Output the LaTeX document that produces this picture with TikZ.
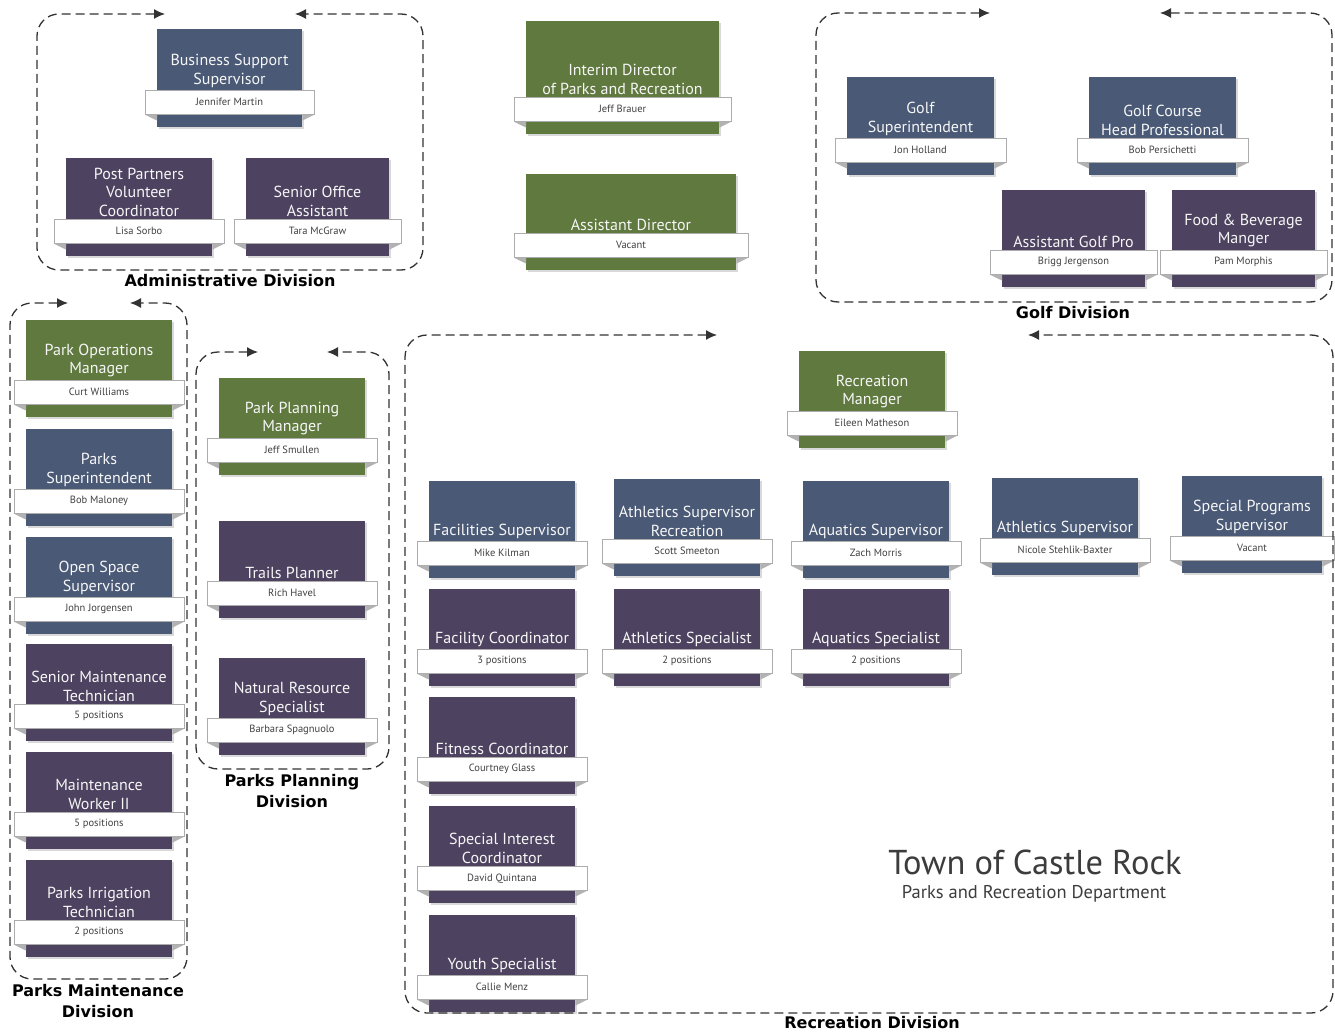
\documentclass[tikz,border=0pt]{standalone}
\usepackage{fontspec}
\setmainfont{PT Sans}
\newfontfamily\labelfont{DejaVu Sans}
\usetikzlibrary{shadows,arrows.meta}

\definecolor{cardgreen}{RGB}{95,121,62}
\definecolor{cardblue}{RGB}{73,89,118}
\definecolor{cardpurple}{RGB}{77,67,96}
\definecolor{inkgray}{RGB}{60,60,60}

%% one position: name, x, y, width, height, colour, title, person
\newcommand{\orgcard}[8]{%
  \node[cardbox,fill=#6,minimum width=#4pt,minimum height=#5pt] (#1) at (#2,#3) {};
  \node[cardband,minimum width=#4pt+24pt] (#1-band) at ({#2+#4/2},{#3+#5-37}) {#8};
  \fill[cardfold] (#1-band.south west) -- (#1-band.south west -| #1.west)
    -- ([yshift=-6pt]#1-band.south west -| #1.west) -- cycle;
  \fill[cardfold] (#1-band.south east) -- (#1-band.south east -| #1.east)
    -- ([yshift=-6pt]#1-band.south east -| #1.east) -- cycle;
  \node[cardtitle] (#1-title) at (#1-band.north) {#7};
}

%% dashed division frame: left, top, right, bottom, right tip, left tip
\newcommand{\divframe}[6]{%
  \draw[divline] (#5,#2) -- (#1,#2) -- (#1,#4) -- (#3,#4) -- (#3,#2) -- (#6,#2);
}

\begin{document}
\begin{tikzpicture}
[x=1pt,y=-1pt,
  cardbox/.style={anchor=north west,inner sep=0pt,draw=none,
    drop shadow={shadow xshift=1.5pt,shadow yshift=-1.5pt,opacity=.3}},
  cardband/.style={anchor=north,draw=gray!65,fill=white,line width=.6pt,
    minimum height=24pt,inner sep=0pt,text=black!75,font=\fontsize{10.5}{12}\selectfont,
    drop shadow={shadow xshift=1pt,shadow yshift=-1pt,opacity=.2}},
  cardfold/.style={fill=gray!60},
  cardtitle/.style={anchor=south,align=center,inner sep=2.5pt,text=white!93!gray,
    font=\fontsize{16}{18.5}\selectfont},
  divline/.style={{Latex[length=11pt,width=10pt]}-{Latex[length=11pt,width=10pt]},
    dash pattern=on 9pt off 5pt,rounded corners=22pt,line width=1.3pt,black!80},
  divlabel/.style={align=center,font=\labelfont\bfseries\fontsize{16}{21}\selectfont}]
\useasboundingbox (0,0) rectangle (1335,1035);

%% director
\orgcard{director}{526}{21}{193}{113}{cardgreen}{Interim Director\\of Parks and Recreation}{Jeff Brauer}
\orgcard{asstdir}{526}{174}{210}{96}{cardgreen}{Assistant Director}{Vacant}

%% administrative division
\orgcard{bizsup}{157}{29}{145}{98}{cardblue}{Business Support\\Supervisor}{Jennifer Martin}
\orgcard{volcoord}{66}{158}{146}{98}{cardpurple}{Post Partners\\Volunteer\\Coordinator}{Lisa Sorbo}
\orgcard{officeasst}{246}{158}{143}{98}{cardpurple}{Senior Office\\Assistant}{Tara McGraw}
\divframe{37}{14}{423}{270}{165}{295}
\node[divlabel] (admlabel) at (230,281) {Administrative Division};

%% golf division
\orgcard{golfsup}{847}{77}{147}{98}{cardblue}{Golf\\Superintendent}{Jon Holland}
\orgcard{golfpro}{1089}{77}{147}{98}{cardblue}{Golf Course\\Head Professional}{Bob Persichetti}
\orgcard{asstpro}{1002}{190}{143}{97}{cardpurple}{Assistant Golf Pro}{Brigg Jergenson}
\orgcard{foodbev}{1172}{190}{143}{97}{cardpurple}{Food \& Beverage\\Manger}{Pam Morphis}
\divframe{816}{13}{1332}{302}{990}{1160}
\node[divlabel] (golflabel) at (1073,313) {Golf Division};

%% parks maintenance division
\foreach \nm/\y/\col/\ttl/\who in {
  parkops/320/cardgreen/{Park Operations\\Manager}/{Curt Williams},
  parksup/429/cardblue/{Parks\\Superintendent}/{Bob Maloney},
  openspace/537/cardblue/{Open Space\\Supervisor}/{John Jorgensen},
  seniormaint/644/cardpurple/{Senior Maintenance\\Technician}/{5 positions},
  maintworker/752/cardpurple/{Maintenance\\Worker II}/{5 positions},
  irrigation/860/cardpurple/{Parks Irrigation\\Technician}/{2 positions}} {
  \orgcard{\nm}{26}{\y}{146}{97}{\col}{\ttl}{\who}
}
\divframe{10}{303}{187}{979}{68}{130}
\node[divlabel] (maintlabel) at (98,1001) {Parks Maintenance\\Division};

%% parks planning division
\foreach \nm/\y/\col/\ttl/\who in {
  planmgr/378/cardgreen/{Park Planning\\Manager}/{Jeff Smullen},
  trails/521/cardpurple/{Trails Planner}/{Rich Havel},
  natres/658/cardpurple/{Natural Resource\\Specialist}/{Barbara Spagnuolo}} {
  \orgcard{\nm}{219}{\y}{146}{97}{\col}{\ttl}{\who}
}
\divframe{196}{352}{389}{769}{258}{327}
\node[divlabel] (planlabel) at (292,791) {Parks Planning\\Division};

%% recreation division
\orgcard{recmgr}{799}{351}{146}{97}{cardgreen}{Recreation\\Manager}{Eileen Matheson}
\foreach \nm/\x/\y/\w/\ttl/\who in {
  facsup/429/481/146/{Facilities Supervisor}/{Mike Kilman},
  athsuprec/614/479/146/{Athletics Supervisor\\Recreation}/{Scott Smeeton},
  aqsup/803/481/146/{Aquatics Supervisor}/{Zach Morris},
  athsup/992/478/146/{Athletics Supervisor}/{Nicole Stehlik-Baxter},
  specprog/1182/476/140/{Special Programs\\Supervisor}/{Vacant}} {
  \orgcard{\nm}{\x}{\y}{\w}{97}{cardblue}{\ttl}{\who}
}
\foreach \nm/\x/\y/\ttl/\who in {
  faccoord/429/589/{Facility Coordinator}/{3 positions},
  athspec/614/589/{Athletics Specialist}/{2 positions},
  aqspec/803/589/{Aquatics Specialist}/{2 positions},
  fitness/429/697/{Fitness Coordinator}/{Courtney Glass},
  specint/429/806/{Special Interest\\Coordinator}/{David Quintana},
  youth/429/915/{Youth Specialist}/{Callie Menz}} {
  \orgcard{\nm}{\x}{\y}{146}{97}{cardpurple}{\ttl}{\who}
}
\divframe{405}{335}{1333}{1013}{717}{1028}
\node[divlabel] (reclabel) at (872,1023) {Recreation Division};

%% title
\node[text=inkgray,font=\fontsize{34.5}{40}\selectfont] (town) at (1035,862) {Town of Castle Rock};
\node[text=inkgray,font=\fontsize{18.5}{22}\selectfont] (dept) at (1034,894) {Parks and Recreation Department};
\end{tikzpicture}
\end{document}
